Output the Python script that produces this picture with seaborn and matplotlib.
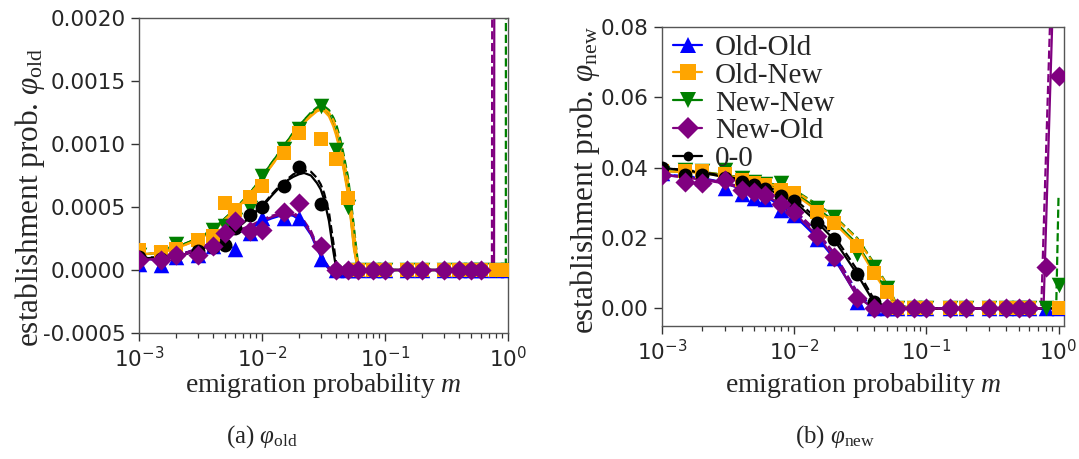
import numpy as np
import pandas as pd
import matplotlib
matplotlib.use("Agg")
import matplotlib.pyplot as plt
from matplotlib.lines import Line2D
from matplotlib.ticker import FormatStrFormatter, LogLocator, NullFormatter
import seaborn as sns

# ---------------- data ----------------
series = ["Old-Old", "Old-New", "New-New", "New-Old", "0-0"]
colors = {"Old-Old": "#0000ff", "Old-New": "#ffa500", "New-New": "#008000",
          "New-Old": "#800080", "0-0": "#000000"}
markers = {"Old-Old": "^", "Old-New": "s", "New-New": "v", "New-Old": "D", "0-0": "o"}
NA = np.nan

# emigration probabilities of the simulations
m_sim = [0.001, 0.0015, 0.002, 0.003, 0.004, 0.005, 0.006, 0.008, 0.01, 0.015,
         0.02, 0.03, 0.04, 0.05, 0.06, 0.08, 0.1, 0.15, 0.2, 0.3, 0.4, 0.5, 0.6,
         0.8, 1.0]

# (a) phi_old, simulations
old_sim_OO = [0.00005, 0.00004, 0.0001, 0.00012, 0.00019, 0.00024, 0.00017, 0.00029,
              0.00041, 0.00041, 0.00041, 0.00009] + [0] * 13
old_sim_ON = [0.00016, 0.00014, 0.00017, 0.00024, 0.00027, 0.00053, 0.00048, 0.00058,
              0.00067, 0.00093, 0.00109, 0.00104, 0.00088, 0.00057] + [0] * 11
old_sim_NN = [0.00012, 0.00013, 0.00021, 0.00023, 0.00032, 0.00035, 0.0004, 0.00049,
              0.00075, 0.00096, 0.00112, 0.0013, 0.00095, 0.0005] + [0] * 11
old_sim_NO = [0.00008, 0.00008, 0.00012, 0.00012, 0.00019, 0.00029, 0.00039, 0.00031,
              0.00032, 0.00046, 0.00053, 0.00019] + [0] * 11 + [0.01, 0.05]
old_sim_00 = [0.0001, 0.00009, 0.00012, 0.00015, 0.00018, 0.0002, 0.00033, 0.00044,
              0.0005, 0.00067, 0.00082, 0.00052] + [0] * 11 + [NA, NA]

# (a) phi_old, theory (solid and dashed)
m_th_a = [0.001, 0.0015, 0.002, 0.003, 0.004, 0.005, 0.006, 0.007, 0.008, 0.01,
          0.012, 0.014, 0.016, 0.018, 0.02, 0.022, 0.025, 0.028, 0.03, 0.032,
          0.035, 0.038, 0.04, 0.043, 0.046, 0.05, 0.053, 0.056, 0.06, 0.065,
          0.08, 0.1, 0.2, 0.5, 0.74, 0.77, 0.96, 1.0]
old_th_ON = [0.00012, 0.00014, 0.00017, 0.00024, 0.00031, 0.0004, 0.00047, 0.00054,
             0.0006, 0.00072, 0.00083, 0.00092, 0.001, 0.00107, 0.00112, 0.00117,
             0.00122, 0.00126, 0.00127, 0.00126, 0.00122, 0.00114, 0.00107, 0.00095,
             0.0008, 0.0006, 0.00038, 0.00016, 0.00001] + [0] * 9
old_thd_ON = [0.00012, 0.00014, 0.00017, 0.00024, 0.00031, 0.0004, 0.00047, 0.00054,
              0.0006, 0.00072, 0.00083, 0.00092, 0.001, 0.00107, 0.00112, 0.00117,
              0.00123, 0.00127, 0.00128, 0.00128, 0.00125, 0.00119, 0.00113, 0.00102,
              0.00089, 0.0007, 0.0005, 0.0003, 0.00005] + [0] * 9
old_th_NN = [0.00012, 0.00014, 0.00018, 0.00025, 0.00032, 0.00041, 0.00048, 0.00055,
             0.00061, 0.00074, 0.00085, 0.00094, 0.00102, 0.00109, 0.00114, 0.00119,
             0.00124, 0.00128, 0.00129, 0.00128, 0.00124, 0.00116, 0.00109, 0.00097,
             0.00082, 0.00062, 0.0004, 0.00018, 0.00001] + [0] * 9
old_thd_NN = [0.00012, 0.00014, 0.00018, 0.00025, 0.00032, 0.00041, 0.00048, 0.00055,
              0.00061, 0.00074, 0.00085, 0.00094, 0.00102, 0.00109, 0.00114, 0.00119,
              0.00125, 0.00129, 0.0013, 0.0013, 0.00127, 0.00121, 0.00116, 0.00105,
              0.00092, 0.00074, 0.00054, 0.00033, 0.00007] + [0] * 8 + [0.05]
old_th_00 = [0.00009, 0.0001, 0.00011, 0.00015, 0.00021, 0.00026, 0.00032, 0.00037,
             0.00042, 0.0005, 0.00059, 0.00066, 0.00071, 0.00074, 0.00076, 0.00077,
             0.00075, 0.00069, 0.00064, 0.00056, 0.00039, 0.00015, 0.00002] + [0] * 15
old_thd_00 = [0.0001, 0.0001, 0.00012, 0.00016, 0.00022, 0.00027, 0.00033, 0.00038,
              0.00043, 0.00051, 0.0006, 0.00067, 0.00072, 0.00076, 0.00078, 0.00079,
              0.00078, 0.00073, 0.00068, 0.00061, 0.00046, 0.00022, 0.00006] + [0] * 15
old_th_NO = [0.00008, 0.00009, 0.0001, 0.00016, 0.00023, 0.00027, 0.0003, 0.00032,
             0.00034, 0.00039, 0.00042, 0.00044, 0.00045, 0.00044, 0.00041, 0.00037,
             0.00029, 0.00018, 0.00012, 0.00006, 0.00001] + [0] * 15 + [0.1, 0.12]
old_thd_NO = [0.00008, 0.00009, 0.00011, 0.00017, 0.00024, 0.00028, 0.00031, 0.00033,
              0.00035, 0.0004, 0.00043, 0.00045, 0.00046, 0.00045, 0.00043, 0.00039,
              0.00031, 0.0002, 0.00014, 0.00008, 0.00002, 0] + [0] * 13 + [0.015, 0.1, 0.12]
old_th_OO = [0.00008, 0.00009, 0.0001, 0.00016, 0.00022, 0.00026, 0.00029, 0.00031,
             0.00033, 0.00038, 0.00041, 0.00043, 0.00044, 0.00043, 0.0004, 0.00036,
             0.00028, 0.00017, 0.00011, 0.00005, 0.00001] + [0] * 17
old_thd_OO = [0.00008, 0.00009, 0.00011, 0.00017, 0.00023, 0.00027, 0.0003, 0.00032,
              0.00034, 0.00039, 0.00042, 0.00044, 0.00045, 0.00044, 0.00042, 0.00038,
              0.0003, 0.00019, 0.00013, 0.00007, 0.00002] + [0] * 17

# (b) phi_new, simulations
new_sim_OO = [0.0385, 0.0375, 0.037, 0.0343, 0.0324, 0.0314, 0.031, 0.0281, 0.0265,
              0.0196, 0.0142, 0.0018] + [0] * 13
new_sim_ON = [0.0392, 0.039, 0.0392, 0.0382, 0.0366, 0.0356, 0.0351, 0.0337, 0.0328,
              0.0275, 0.0243, 0.0178, 0.0101, 0.0047] + [0] * 9 + [NA, 0]
new_sim_NN = [0.0385, 0.0394, 0.039, 0.0394, 0.037, 0.036, 0.0354, 0.0356, 0.0305,
              0.0285, 0.026, 0.0156, 0.0119, 0.0057] + [0] * 10 + [0.0066]
new_sim_NO = [0.038, 0.0358, 0.0356, 0.0366, 0.0337, 0.0331, 0.0323, 0.0298, 0.0274,
              0.0206, 0.0145, 0.003] + [0] * 11 + [0.0117, 0.066]
new_sim_00 = [0.0399, 0.038, 0.0378, 0.037, 0.036, 0.035, 0.034, 0.032, 0.0304,
              0.0244, 0.0196, 0.0098, 0.0018] + [0] * 10 + [NA, NA]

# (b) phi_new, theory (solid and dashed)
m_th_b = [0.001, 0.0015, 0.002, 0.003, 0.004, 0.005, 0.006, 0.008, 0.01, 0.015,
          0.02, 0.03, 0.04, 0.05, 0.06, 0.08, 0.1, 0.15, 0.2, 0.3, 0.4, 0.5, 0.6,
          0.74, 0.77, 0.96, 1.0]
new_th_OO = [0.038, 0.0375, 0.037, 0.0355, 0.034, 0.033, 0.032, 0.029, 0.0265, 0.02,
             0.0143, 0.0035] + [0] * 15
new_thd_OO = [0.038, 0.0376, 0.0371, 0.0357, 0.0344, 0.0335, 0.0326, 0.0302, 0.0278,
              0.0213, 0.0156, 0.0046, 0.0002] + [0] * 14
new_th_ON = [0.039, 0.0388, 0.0385, 0.0375, 0.0365, 0.0358, 0.035, 0.0337, 0.0325,
             0.0278, 0.0243, 0.0178, 0.0101, 0.0047] + [0] * 13
new_thd_ON = [0.039, 0.0389, 0.0387, 0.0379, 0.037, 0.0364, 0.0357, 0.0345, 0.0335,
              0.0292, 0.026, 0.0197, 0.0127, 0.0068, 0.0008] + [0] * 12
new_th_NN = [0.039, 0.0389, 0.0387, 0.0378, 0.037, 0.0362, 0.0354, 0.034, 0.033,
             0.0283, 0.0249, 0.0183, 0.0107, 0.0051, 0] + [0] * 12
new_thd_NN = [0.039, 0.039, 0.0388, 0.038, 0.0372, 0.0366, 0.0359, 0.0347, 0.0337,
              0.0295, 0.0263, 0.02, 0.013, 0.007, 0.001] + [0] * 11 + [0.032]
new_th_NO = [0.038, 0.0372, 0.0366, 0.0355, 0.0341, 0.0332, 0.0322, 0.0297, 0.0272,
             0.0206, 0.0146, 0.0033, 0] + [0] * 12 + [0.118, 0.14]
new_thd_NO = [0.038, 0.0373, 0.0368, 0.0358, 0.0345, 0.0337, 0.0328, 0.0305, 0.0281,
              0.0217, 0.0158, 0.0045, 0.0002] + [0] * 11 + [0.021, 0.138, 0.16]
new_th_00 = [0.04, 0.0392, 0.0386, 0.0373, 0.0362, 0.0352, 0.0342, 0.0322, 0.0304,
             0.0244, 0.0196, 0.0097, 0.0018] + [0] * 14
new_thd_00 = [0.04, 0.0393, 0.0388, 0.0376, 0.0366, 0.0357, 0.0348, 0.0329, 0.0312,
              0.0254, 0.0207, 0.0109, 0.0027] + [0] * 14

ylim_a = (-0.0005, 0.0020)
yticks_a = [-0.0005, 0.0, 0.0005, 0.0010, 0.0015, 0.0020]
ylim_b = (-0.005, 0.08)
yticks_b = [0.0, 0.02, 0.04, 0.06, 0.08]

panel_a = {
    "sim": {"Old-Old": old_sim_OO, "Old-New": old_sim_ON, "New-New": old_sim_NN,
            "New-Old": old_sim_NO, "0-0": old_sim_00},
    "th": {"Old-Old": old_th_OO, "Old-New": old_th_ON, "New-New": old_th_NN,
           "New-Old": old_th_NO, "0-0": old_th_00},
    "thd": {"Old-Old": old_thd_OO, "Old-New": old_thd_ON, "New-New": old_thd_NN,
            "New-Old": old_thd_NO, "0-0": old_thd_00},
    "m_th": m_th_a,
}
panel_b = {
    "sim": {"Old-Old": new_sim_OO, "Old-New": new_sim_ON, "New-New": new_sim_NN,
            "New-Old": new_sim_NO, "0-0": new_sim_00},
    "th": {"Old-Old": new_th_OO, "Old-New": new_th_ON, "New-New": new_th_NN,
           "New-Old": new_th_NO, "0-0": new_th_00},
    "thd": {"Old-Old": new_thd_OO, "Old-New": new_thd_ON, "New-New": new_thd_NN,
            "New-Old": new_thd_NO, "0-0": new_thd_00},
    "m_th": m_th_b,
}

# ---------------- style ----------------
sns.set_style("ticks")
plt.rcParams["font.family"] = ["DejaVu Sans"]
plt.rcParams["axes.unicode_minus"] = False
plt.rcParams["mathtext.fontset"] = "dejavusans"
plt.rcParams["mathtext.rm"] = "Liberation Serif"
plt.rcParams["mathtext.it"] = "Liberation Serif:italic"
plt.rcParams["mathtext.bf"] = "Liberation Serif:bold"

SERIF = ["Liberation Serif", "DejaVu Serif"]
TICK_FS = 15.5
XLABEL_FS = 20
YLABEL_FS = 22.5

fig = plt.figure(figsize=(10.79, 4.59), dpi=100)
ax_a = fig.add_axes([139 / 1079, 1 - 333 / 459, 369 / 1079, 315 / 459])
ax_b = fig.add_axes([662 / 1079, 1 - 326 / 459, 402 / 1079, 299 / 459])

draw_order = ["Old-Old", "New-New", "Old-New", "0-0", "New-Old"]
msize = {"Old-Old": 125, "Old-New": 100, "New-New": 125, "New-Old": 105, "0-0": 100}


def draw_panel(ax, panel):
    ax.set_xscale("log")
    m_th = panel["m_th"]
    for s in draw_order:
        c = colors[s]
        sns.lineplot(x=m_th, y=panel["th"][s], ax=ax, color=c, linewidth=1.6,
                     estimator=None, sort=False, legend=False, zorder=2)
        sns.lineplot(x=m_th, y=panel["thd"][s], ax=ax, color=c, linewidth=1.6,
                     linestyle="--", estimator=None, sort=False, legend=False, zorder=2)
    for s in draw_order:
        sns.scatterplot(x=m_sim, y=panel["sim"][s], ax=ax, color=colors[s],
                        marker=markers[s], s=msize[s], linewidth=0, legend=False,
                        zorder=3)


draw_panel(ax_a, panel_a)
draw_panel(ax_b, panel_b)

for ax in (ax_a, ax_b):
    ax.xaxis.set_major_locator(LogLocator(base=10, numticks=10))
    ax.xaxis.set_minor_locator(LogLocator(base=10, subs=np.arange(2, 10), numticks=10))
    ax.xaxis.set_minor_formatter(NullFormatter())
    ax.tick_params(axis="both", which="major", labelsize=TICK_FS, length=6, width=1,
                   direction="out", color="#333333")
    ax.tick_params(axis="x", which="minor", length=3.5, width=0.9, color="#333333")
    for sp in ax.spines.values():
        sp.set_linewidth(1.0)
        sp.set_color("#555555")
    ax.set_xlabel("emigration probability $m$", fontsize=XLABEL_FS, family=SERIF,
                  math_fontfamily="custom")

ax_a.set_xlim(1e-3, 1.0)
ax_a.set_ylim(*ylim_a)
ax_a.set_yticks(yticks_a)
ax_a.yaxis.set_major_formatter(FormatStrFormatter("%.4f"))
ax_a.set_ylabel(r"establishment prob. $\varphi_{\rm old}$", fontsize=YLABEL_FS,
                family=SERIF, math_fontfamily="custom")

ax_b.set_xlim(1e-3, 1.1)
ax_b.set_ylim(*ylim_b)
ax_b.set_yticks(yticks_b)
ax_b.yaxis.set_major_formatter(FormatStrFormatter("%.2f"))
ax_b.set_ylabel(r"establishment prob. $\varphi_{\rm new}$", fontsize=YLABEL_FS,
                family=SERIF, math_fontfamily="custom")

ax_a.xaxis.set_label_coords(0.5, -0.12)
ax_b.xaxis.set_label_coords(0.5, -0.15)
ax_a.yaxis.set_label_coords(-0.25, 0.43)
ax_b.yaxis.set_label_coords(-0.15, 0.49)

# legend (panel b)
handles = []
for s in series:
    ms = 7 if s == "0-0" else 11
    handles.append(Line2D([], [], color=colors[s], marker=markers[s], markersize=ms,
                          linewidth=1.6, markeredgewidth=0))
leg = ax_b.legend(handles, series, loc="upper left", bbox_to_anchor=(0.02, 0.985),
                  frameon=False, prop={"family": SERIF, "size": 21},
                  handlelength=1.0, handletextpad=0.45, labelspacing=0.05,
                  borderpad=0.1, borderaxespad=0.0)

# subfigure captions
fig.text(262 / 1079, 1 - 437 / 459, r"(a) $\varphi_{\rm old}$", ha="center",
         va="center", fontsize=18, family=SERIF, math_fontfamily="custom")
fig.text(835 / 1079, 1 - 437 / 459, r"(b) $\varphi_{\rm new}$", ha="center",
         va="center", fontsize=18, family=SERIF, math_fontfamily="custom")

fig.savefig("out.png", dpi=100)
